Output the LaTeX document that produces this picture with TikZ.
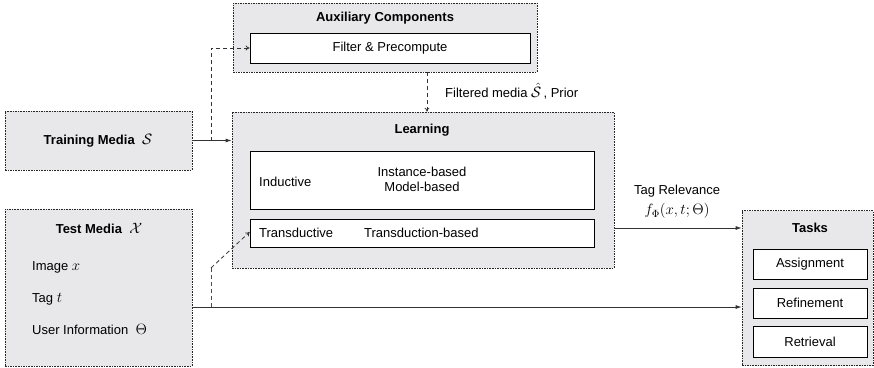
\RequirePackage{fix-cm}
\documentclass[tikz,border=0pt]{standalone}
\usepackage[no-math]{fontspec}
\setmainfont{Liberation Sans}
\usetikzlibrary{arrows.meta}
\definecolor{boxgray}{RGB}{232,232,234}
\newcommand{\mymath}[1]{{\fontsize{15}{17}\selectfont$#1$}}
\tikzset{
  grpbox/.style={draw=black!85, dash pattern=on 1.6pt off 1pt, line width=0.7pt, fill=boxgray, minimum width=#1, inner sep=0pt},
  whitebox/.style={draw=black, line width=0.8pt, fill=white, inner sep=0pt},
  ttl/.style={font=\fontsize{13}{15}\selectfont\bfseries, inner sep=0pt},
  txt/.style={inner sep=0pt},
  solidarrow/.style={draw=black!80, line width=0.8pt, -{Latex[length=6pt,width=4pt]}},
  dasharrow/.style={draw=black!80, line width=0.8pt, dash pattern=on 4pt off 3pt, -{To[length=4pt,width=5pt]}},
  dashline/.style={draw=black!70, line width=0.8pt, dash pattern=on 4pt off 3pt}
}
\begin{document}
\begin{tikzpicture}[x=1pt,y=-1pt,font=\fontsize{13}{15}\selectfont]
\useasboundingbox (0,0) rectangle (874,367);
% group boxes
\node[grpbox=187pt, minimum height=59pt] (train) at (98.5,140.5) {};
\node[grpbox=187pt, minimum height=157pt] (test) at (98.5,287.5) {};
\node[grpbox=304pt, minimum height=69pt] (aux) at (385,37.5) {};
\node[grpbox=382pt, minimum height=156pt] (learn) at (423,190) {};
\node[grpbox=131pt, minimum height=155pt] (tasks) at (807.5,288) {};
% white boxes
\node[whitebox, minimum width=280pt, minimum height=30pt] (filter) at (390,48) {Filter \& Precompute};
\node[whitebox, minimum width=344pt, minimum height=58pt] (induct) at (422,180) {};
\node[whitebox, minimum width=344pt, minimum height=28pt] (transd) at (422,233) {};
\node[whitebox, minimum width=114pt, minimum height=30pt] (assign) at (810,264) {Assignment};
\node[whitebox, minimum width=114pt, minimum height=30pt] (refine) at (810,303) {Refinement};
\node[whitebox, minimum width=114pt, minimum height=31pt] (retr) at (810,341.5) {Retrieval};
% titles
\node[ttl] (auxt) at (385,18) {Auxiliary Components};
\node[ttl] (learnt) at (422,130) {Learning};
\node[ttl] (taskst) at (810,228) {Tasks};
\node[txt] (traint) at (98,141) {\textbf{Training Media}\ \ \mymath{\mathcal{S}}};
\node[txt] (testt) at (99,228) {\textbf{Test Media}\ \ \mymath{\mathcal{X}}};
\node[txt, anchor=west] (img) at (32,267) {Image \mymath{x}};
\node[txt, anchor=west] (tag) at (32,299) {Tag \mymath{t}};
\node[txt, anchor=west] (user) at (32,329) {User Information\ \ \mymath{\Theta}};
% learning contents
\node[txt, anchor=west] (indt) at (259,182) {Inductive};
\node[txt, align=center] (methods) at (422,179.5) {Instance-based\\Model-based};
\node[txt, anchor=west] (trdt) at (259,233) {Transductive};
\node[txt, anchor=west] (trbt) at (364,233) {Transduction-based};
% connectors
\coordinate (j1) at (211,141);
\coordinate (j2) at (211,307);
\coordinate (j3) at (211,268);
\coordinate (fx) at (427,0);
\coordinate (ty) at (0,228);
\draw[solidarrow] (train.east) -- (train.east -| learn.west);
\draw[dasharrow] (j1) |- (filter.west);
\draw[solidarrow] (test.east |- j2) -- (tasks.west |- j2);
\draw[dashline] (j2) -- (j3);
\draw[dasharrow] (j3) -- ([yshift=1pt]transd.west);
\draw[dasharrow] (aux.south -| fx) -- (learn.north -| fx);
\node[txt, anchor=west] (filtlab) at (445,91) {Filtered media \mymath{\hat{\mathcal{S}}}\,, Prior};
\draw[solidarrow] (learn.east |- ty) -- (tasks.west |- ty);
\node[txt] (relt) at (677,191) {Tag Relevance};
\node[txt] (relf) at (677,211) {\mymath{f_{\Phi}(x,t;\Theta)}};
\end{tikzpicture}
\end{document}
